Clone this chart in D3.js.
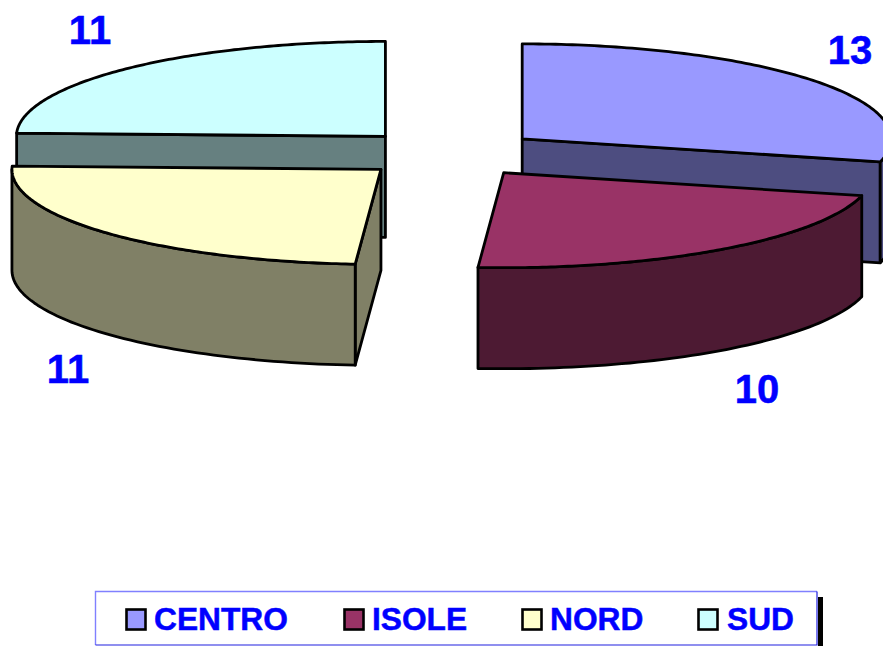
<!DOCTYPE html>
<html>
<head>
<meta charset="utf-8">
<script src="https://cdn.jsdelivr.net/npm/d3@7"></script>
<style>
  html, body { margin: 0; padding: 0; background: #fff; overflow: hidden; }
  text { font-family: "Liberation Sans", Arial, sans-serif; font-weight: bold; fill: #0000ff; stroke: #0000ff; stroke-width: 0.5px; }
</style>
</head>
<body>
<svg id="chart" width="883" height="646"></svg>
<script>
var categories = ["CENTRO", "ISOLE", "NORD", "SUD"];
var values = [13, 10, 11, 11];
var topColors = ["#9999ff", "#993366", "#ffffcc", "#ccffff"];
var sideColors = ["#4d4d80", "#4d1a33", "#808066", "#668080"];
var drawOrder = [3, 0, 2, 1];

// label anchors and legend slots, in pixels
var labelX = [850, 757, 68, 90];
var labelY = [64, 403, 383, 44];
var legendX = [125, 343, 521, 697];
var legendTextX = [154, 372, 550, 727];

var svg = d3.select("#chart");
var depth = 101;
var explode = 0.25;
var edgeWidth = 2.8;

// unit circle -> flattened ellipse
var xScale = d3.scaleLinear().domain([-1, 1]).range([449.5 - 369, 449.5 + 369]);
var yScale = d3.scaleLinear().domain([-1, 1]).range([153.5 - 95, 153.5 + 95]);

var slices = d3.pie().sort(null)(values);

function drawSlice(i) {
  var d = slices[i];
  var mid = (d.startAngle + d.endAngle) / 2;
  var ox = explode * Math.sin(mid);
  var oy = -explode * Math.cos(mid);

  function px(a, r) { return xScale(ox + r * Math.sin(a)); }
  function py(a, r) { return yScale(oy - r * Math.cos(a)); }

  var g = svg.append("g");
  var line = d3.line();

  function face(pathData, fill) {
    g.append("path")
      .attr("d", pathData)
      .attr("fill", fill)
      .attr("stroke", "#000")
      .attr("stroke-width", edgeWidth)
      .attr("stroke-linejoin", "round");
  }

  function wall(a) {
    var pts = [[px(a, 0), py(a, 0)], [px(a, 1), py(a, 1)],
               [px(a, 1), py(a, 1) + depth], [px(a, 0), py(a, 0) + depth]];
    face(line(pts) + "Z", sideColors[i]);
  }

  // only the cut faces turned toward the viewer
  if (Math.sin(d.startAngle) < -1e-6) wall(d.startAngle);
  if (Math.sin(d.endAngle) > 1e-6) wall(d.endAngle);

  // outer rim, the front half of the ellipse only
  var a0 = Math.max(d.startAngle, Math.PI / 2);
  var a1 = Math.min(d.endAngle, Math.PI * 1.5);
  if (a1 > a0) {
    var arc = d3.range(0, 61).map(function(k) { return a0 + (a1 - a0) * k / 60; });
    var front = arc.map(function(a) { return [px(a, 1), py(a, 1)]; });
    var back = arc.slice().reverse().map(function(a) { return [px(a, 1), py(a, 1) + depth]; });
    face(line(front.concat(back)) + "Z", sideColors[i]);
  }

  // top face
  var topArc = d3.range(0, 121).map(function(k) {
    var a = d.startAngle + (d.endAngle - d.startAngle) * k / 120;
    return [px(a, 1), py(a, 1)];
  });
  face(line([[px(0, 0), py(0, 0)]].concat(topArc)) + "Z", topColors[i]);
}

drawOrder.forEach(drawSlice);

// value labels
svg.selectAll("text.value")
  .data(values)
  .enter().append("text")
    .attr("class", "value")
    .attr("x", function(d, i) { return labelX[i]; })
    .attr("y", function(d, i) { return labelY[i]; })
    .attr("text-anchor", "middle")
    .style("font-size", "40px")
    .text(function(d) { return d; });

// legend box, shadow first
svg.append("rect").attr("x", 818).attr("y", 597).attr("width", 5).attr("height", 49).attr("fill", "#000");
svg.append("path").attr("d", "M95.5,645 V591.5 H817").attr("fill", "none").attr("stroke", "#8080ff").attr("stroke-width", 1.4);
svg.append("path").attr("d", "M95.5,645 H817 V591.5").attr("fill", "none").attr("stroke", "#2020e0").attr("stroke-width", 1.2);

var legend = svg.selectAll("g.legend")
  .data(categories)
  .enter().append("g")
    .attr("class", "legend");

legend.append("rect")
  .attr("x", function(d, i) { return legendX[i] + 1.5; })
  .attr("y", 609.5)
  .attr("width", 19).attr("height", 20)
  .attr("fill", function(d, i) { return topColors[i]; })
  .attr("stroke", "#000")
  .attr("stroke-width", 2.6);

legend.append("text")
  .attr("x", function(d, i) { return legendTextX[i]; })
  .attr("y", 630)
  .style("font-size", "31.7px")
  .text(function(d) { return d; });
</script>
</body>
</html>
